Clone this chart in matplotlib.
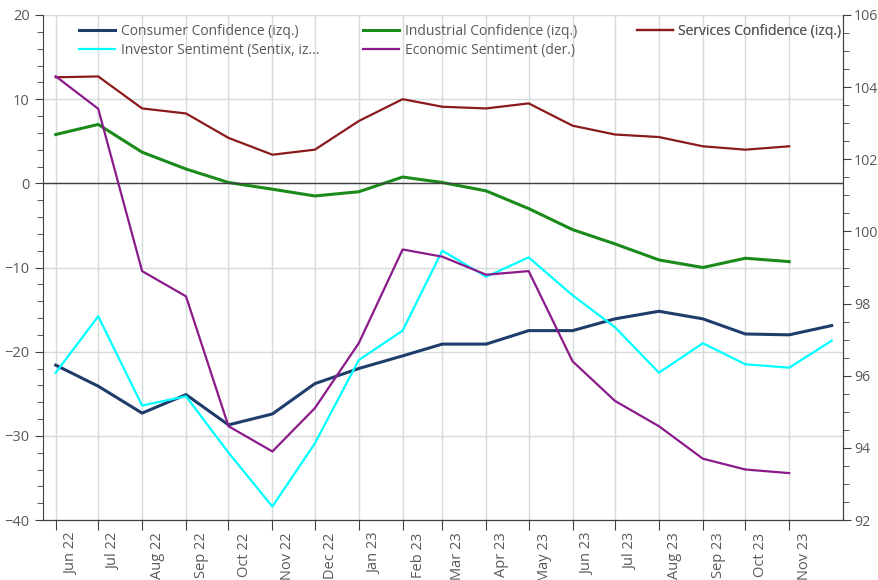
import pandas as pd
import matplotlib.pyplot as plt
from matplotlib.ticker import MultipleLocator
import matplotlib.dates as mdates

plt.rcParams['font.family'] = ['Open Sans', 'DejaVu Sans']

dates = pd.date_range('2022-06-01', '2023-12-01', freq='MS')
tick_dates = pd.date_range('2022-06-01', '2023-11-01', freq='MS')
tick_labels = [d.strftime('%b %y') for d in tick_dates]

consumer = [-21.6, -24.1, -27.3, -25.1, -28.7, -27.4, -23.8, -22.0, -20.5, -19.1,
            -19.1, -17.5, -17.5, -16.1, -15.2, -16.1, -17.9, -18.0, -16.9]
industrial = [5.8, 7.0, 3.7, 1.7, 0.1, -0.7, -1.5, -1.0, 0.75, 0.1,
              -0.9, -3.0, -5.5, -7.2, -9.1, -10.0, -8.9, -9.3]
services = [12.6, 12.7, 8.9, 8.3, 5.4, 3.4, 4.0, 7.4, 10.0, 9.1,
            8.9, 9.5, 6.85, 5.8, 5.5, 4.4, 4.0, 4.4]
investor = [-22.5, -15.8, -26.4, -25.3, -32.0, -38.4, -30.9, -21.0, -17.5, -8.0,
            -11.1, -8.8, -13.3, -17.1, -22.5, -19.0, -21.5, -21.9, -18.7]
economic = [104.3, 103.4, 98.9, 98.2, 94.6, 93.9, 95.1, 96.9, 99.5, 99.3,
            98.8, 98.9, 96.4, 95.3, 94.6, 93.7, 93.4, 93.3]

fig = plt.figure(figsize=(8.79, 5.8), dpi=100)
ax = fig.add_axes([43 / 879, 60 / 580, 800 / 879, 505 / 580])
ax2 = ax.twinx()

navy = '#1F3D6B'
green = '#1A8A1A'
red = '#8B1A1A'
cyan = '#00FFFF'
purple = '#8B1A8B'
grey = '#595959'

l1, = ax.plot(dates, consumer, color=navy, lw=2.2, label='Consumer Confidence (izq.)')
l2, = ax.plot(dates[:len(industrial)], industrial, color=green, lw=2.2, label='Industrial Confidence (izq.)')
l3, = ax.plot(dates[:len(services)], services, color=red, lw=1.6, label='Services Confidence (izq.)')
l4, = ax.plot(dates, investor, color=cyan, lw=1.6, label='Investor Sentiment (Sentix, iz...')
l5, = ax2.plot(dates[:len(economic)], economic, color=purple, lw=1.6, label='Economic Sentiment (der.)')

ax.set_xlim(pd.Timestamp('2022-05-23'), pd.Timestamp('2023-12-09'))
ax.set_ylim(-40, 20)
ax2.set_ylim(92, 106)

ax.yaxis.set_major_locator(MultipleLocator(10))
ax.yaxis.set_minor_locator(MultipleLocator(2))
ax2.yaxis.set_major_locator(MultipleLocator(2))
ax2.yaxis.set_minor_locator(MultipleLocator(0.5))

# ticks at month starts, labels shifted a little to the right (as minor ticks)
major_pos = mdates.date2num(tick_dates)
ax.set_xticks(major_pos, labels=[''] * len(major_pos))
ax.set_xticks(major_pos + 11, labels=tick_labels, minor=True,
              rotation=90, va='top', ha='center')

ax.grid(True, which='major', color='#D5DADB', lw=1)
ax.axhline(0, color='#404040', lw=1)

for a in (ax, ax2):
    for s in a.spines.values():
        s.set_color('#404040')
    a.spines['top'].set_visible(False)
    a.tick_params(which='both', colors='#404040', labelcolor=grey, labelsize=10.5, direction='out')
    a.tick_params(which='major', length=6)
    a.tick_params(which='minor', length=4)
ax2.spines['left'].set_visible(False)
ax2.tick_params(axis='y', labelsize=10.2, pad=2)
ax.tick_params(axis='x', which='major', length=7)
ax.tick_params(axis='x', which='minor', length=0, pad=9)

cols = [([l1, l4], 0.034), ([l2, l5], 0.389), ([l3], 0.731)]
for handles, x0 in cols:
    leg = ax.legend(handles=handles, loc='upper left', bbox_to_anchor=(x0, 1.0),
                    frameon=False, fontsize=10, handlelength=2.6,
                    labelspacing=0.3, handletextpad=0.4, borderaxespad=0.25)
    for t in leg.get_texts():
        t.set_color(grey)
    ax.add_artist(leg)

plt.savefig('out.png', dpi=100)
